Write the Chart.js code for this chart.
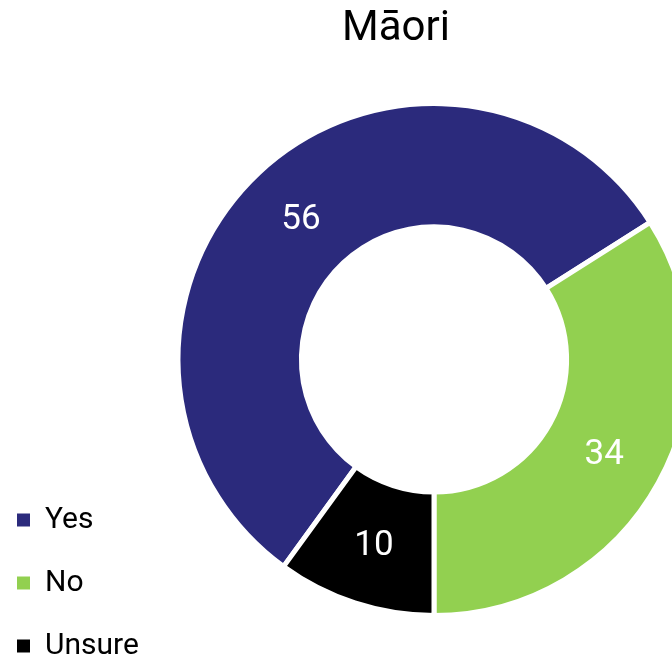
<!DOCTYPE html>
<html>
<head>
<meta charset="utf-8">
<script src="https://cdn.jsdelivr.net/npm/chart.js@4/dist/chart.umd.min.js"></script>
<style>
  html, body { margin: 0; padding: 0; overflow: hidden; background: #fff; width: 672px; height: 658px; }
  #wrap { position: relative; width: 672px; height: 658px; overflow: hidden; }
  #c { position: absolute; left: -16px; top: 0; }
</style>
</head>
<body>
<div id="wrap"><canvas id="c" width="824" height="694"></canvas></div>
<script>
const chartTitle = 'Māori';
const categories = ['Yes', 'No', 'Unsure'];
const values = [56, 34, 10];
const colors = ['#2B2A7C', '#92D050', '#000000'];

const valueLabels = {
  id: 'valueLabels',
  afterDatasetsDraw(chart) {
    const ctx = chart.ctx;
    const meta = chart.getDatasetMeta(0);
    ctx.save();
    ctx.fillStyle = '#ffffff';
    ctx.font = '35px Roboto';
    ctx.textAlign = 'center';
    ctx.textBaseline = 'middle';
    meta.data.forEach((el, i) => {
      const p = el.tooltipPosition();
      ctx.fillText(String(values[i]), p.x, p.y + 2);
    });
    ctx.restore();
  }
};

new Chart(document.getElementById('c'), {
  type: 'doughnut',
  data: {
    labels: categories,
    datasets: [{
      data: values,
      backgroundColor: colors,
      borderColor: '#ffffff',
      borderWidth: 5,
      borderJoinStyle: 'miter',
      hoverOffset: 0
    }]
  },
  options: {
    responsive: false,
    animation: false,
    rotation: 216,
    radius: 256,
    cutout: '51.8%',
    layout: { padding: 0 },
    plugins: {
      tooltip: { enabled: false },
      title: {
        display: true,
        text: chartTitle,
        color: '#000000',
        font: { family: 'Roboto', size: 42, weight: 'normal', lineHeight: 1.2 },
        padding: { top: 4, bottom: -29.4 }
      },
      subtitle: {
        display: true,
        position: 'right',
        text: '',
        font: { size: 10, lineHeight: 1.2 },
        padding: { top: 72, bottom: 0 }
      },
      legend: {
        display: true,
        position: 'left',
        align: 'end',
        maxWidth: 160,
        labels: {
          color: '#000000',
          font: { family: 'Roboto', size: 30 },
          boxWidth: 13,
          boxHeight: 13,
          padding: 33,
          generateLabels(chart) {
            const items = Chart.overrides.doughnut.plugins.legend.labels.generateLabels(chart);
            return items.map(it => Object.assign(it, { lineWidth: 0, strokeStyle: 'rgba(0,0,0,0)' }));
          }
        }
      }
    }
  },
  plugins: [valueLabels]
});
</script>
</body>
</html>
